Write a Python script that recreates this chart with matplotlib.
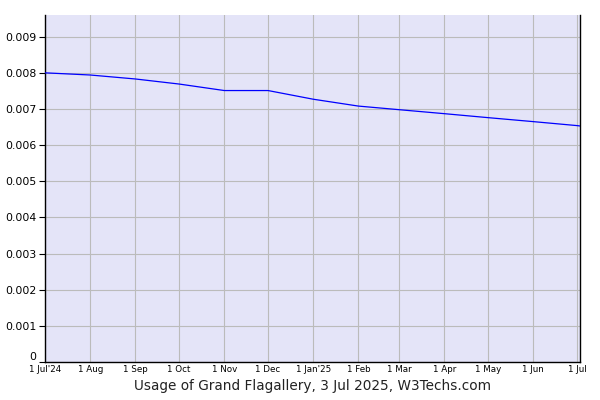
import matplotlib
matplotlib.use("Agg")
import matplotlib.pyplot as plt
import datetime as dt

# monthly usage share (fraction)
dates = [
    "2024-07-01", "2024-08-01", "2024-09-01", "2024-10-01", "2024-11-01",
    "2024-12-01", "2025-01-01", "2025-02-01", "2025-03-01", "2025-04-01",
    "2025-05-01", "2025-06-01", "2025-07-01", "2025-07-03",
]
usage = [
    0.00800, 0.00794, 0.00783, 0.00769, 0.00751,
    0.00751, 0.00727, 0.00708, 0.00698, 0.00687,
    0.00676, 0.00665, 0.00654, 0.00653,
]
tick_dates = [
    "2024-07-01", "2024-08-01", "2024-09-01", "2024-10-01", "2024-11-01",
    "2024-12-01", "2025-01-01", "2025-02-01", "2025-03-01", "2025-04-01",
    "2025-05-01", "2025-06-01", "2025-07-01",
]
tick_labels = ["1 Jul'24", "1 Aug", "1 Sep", "1 Oct", "1 Nov", "1 Dec",
               "1 Jan'25", "1 Feb", "1 Mar", "1 Apr", "1 May", "1 Jun", "1 Jul"]
y_ticks = [0, 0.001, 0.002, 0.003, 0.004, 0.005, 0.006, 0.007, 0.008, 0.009]
y_labels = ["0", "0.001", "0.002", "0.003", "0.004", "0.005",
            "0.006", "0.007", "0.008", "0.009"]

x = [dt.datetime.strptime(d, "%Y-%m-%d") for d in dates]
xt = [dt.datetime.strptime(d, "%Y-%m-%d") for d in tick_dates]

fig = plt.figure(figsize=(6, 4), dpi=100)
ax = fig.add_axes([45 / 600, 38 / 400, 535 / 600, 347 / 400])
ax.set_facecolor("#e4e4f8")

ax.plot(x, usage, color="#0000ff", linewidth=0.9, zorder=3)

ax.set_xlim(xt[0], dt.datetime(2025, 7, 3))
ax.set_ylim(0, 0.0096)

ax.set_xticks(xt)
ax.set_xticklabels(tick_labels, fontsize=6.3)
ax.set_yticks(y_ticks)
ylabs = ax.set_yticklabels(y_labels, fontsize=7.8)
ylabs[0].set_verticalalignment("bottom")
ax.tick_params(axis="x", length=0, pad=2)
ax.tick_params(axis="y", length=4, width=0.8, pad=2)

ax.grid(True, color="#bbbbbb", linewidth=0.8)
ax.set_axisbelow(True)

for s in ["left", "bottom", "right"]:
    ax.spines[s].set_color("black")
    ax.spines[s].set_linewidth(1)
ax.spines["top"].set_visible(False)

ax.set_xlabel("Usage of Grand Flagallery, 3 Jul 2025, W3Techs.com",
              fontsize=9.8, color="#222222", labelpad=4)

fig.savefig("out.png", dpi=100)
